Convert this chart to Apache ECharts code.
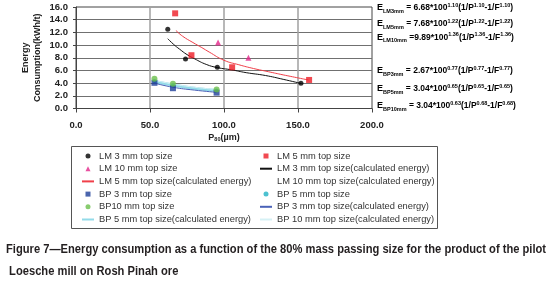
<!DOCTYPE html>
<html>
<head>
<meta charset="utf-8">
<script src="https://cdn.jsdelivr.net/npm/echarts@6/dist/echarts.min.js"></script>
<style>
  html, body { margin: 0; padding: 0; background: #fff; }
  #chart { width: 551px; height: 284px; }
</style>
</head>
<body>
<div id="chart"></div>
<script>
  // measured points [P80 (um), energy (kWh/t)]
  const lm3Points = [[62, 12.5], [74, 7.8], [95.5, 6.5], [152, 4.0]];
  const lm5Points = [[67, 15.0], [78, 8.4], [105.5, 6.5], [157.5, 4.5]];
  const lm10Points = [[96, 10.4], [116.5, 8.0]];
  const bp3Points = [[53, 4.05], [65.5, 3.2], [95, 2.5]];
  const bp5Points = [[53, 4.35], [65.5, 3.65], [95, 2.85]];
  const bp10Points = [[53, 4.7], [65.5, 3.9], [95, 3.0]];

  // calculated energy curves
  const lm3Calc = [[62, 11.0], [66, 10.1], [70, 9.35], [75, 8.5], [80, 7.85], [88, 6.95], [95.5, 6.45],
    [105, 6.1], [115, 5.65], [128, 5.2], [140, 4.6], [152, 3.95]];
  const lm5Calc = [[67.5, 12.3], [72, 11.4], [79, 10.4], [85, 9.6], [90, 8.9], [100, 7.6], [110, 6.9],
    [120, 6.3], [130, 5.8], [140, 5.3], [157, 4.5]];
  const lm10Calc = [];
  const bp3Calc = [[53, 4.0], [65.5, 3.35], [80, 2.9], [95, 2.55]];
  const bp5Calc = [[53, 4.25], [65.5, 3.7], [80, 3.2], [95, 2.85]];
  const bp10Calc = [[53, 4.45], [65.5, 3.85], [80, 3.35], [95, 3.0]];

  const legendLeft = ['LM 3 mm top size', 'LM 10 mm top size', 'LM 5 mm top size(calculated energy)',
    'BP 3 mm top size', 'BP10 mm top size', 'BP 5 mm top size(calculated energy)'];
  const legendRight = ['LM 5 mm top size', 'LM 3 mm top size(calculated energy)', 'LM 10 mm top size(calculated energy)',
    'BP 5 mm top size', 'BP 3 mm top size(calculated energy)', 'BP 10 mm top size(calculated energy)'];

  // equations: [subscript, coefficient, exponent after 100, exponent P, exponent F]
  const equations = [
    ['LM3mm', ' = 6.68*100', '1.10', '1.10', '1.10'],
    ['LM5mm', ' = 7.68*100', '1.22', '1.22', '1.22'],
    ['LM10mm', ' =9.89*100', '1.36', '1.36', '1.36'],
    ['BP3mm', ' = 2.67*100', '0.77', '0.77', '0.77'],
    ['BP5mm', ' = 3.04*100', '0.65', '0.65', '0.65'],
    ['BP10mm', ' = 3.04*100', '0.63', '0.68', '0.68']
  ];
  const equationY = [7, 23, 36.5, 70, 88, 105];

  const captionLines = [
    'Figure 7\u2014Energy consumption as a function of the 80% mass passing size for the product of the pilot',
    ' Loesche mill on Rosh Pinah ore'
  ];

  const font = 'Arial, "Liberation Sans", sans-serif';
  const squareIcon = 'path://M0,0H10V10H0Z';
  const triangleIcon = 'path://M5,0L10,10H0Z';

  function scatter(name, data, symbol, size, color) {
    return {
      name: name, type: 'scatter', data: data, symbol: symbol, symbolSize: size,
      itemStyle: {color: color}, z: 5, animation: false
    };
  }

  function curve(name, data, color, width) {
    return {
      name: name, type: 'line', data: data, smooth: true, symbol: 'none', showSymbol: false,
      lineStyle: {color: color, width: width}, itemStyle: {color: color}, z: 3, animation: false
    };
  }

  const legendIcons = {
    'LM 3 mm top size': 'circle',
    'LM 5 mm top size': squareIcon,
    'LM 10 mm top size': triangleIcon,
    'BP 3 mm top size': squareIcon,
    'BP 5 mm top size': 'circle',
    'BP10 mm top size': 'circle'
  };

  function legendItem(name) {
    if (legendIcons[name]) {
      return {name: name, icon: legendIcons[name]};
    }
    // calculated curves: line only, hide the middle symbol
    return {name: name, itemStyle: {opacity: 0}};
  }

  const richEq = {
    e: {fontSize: 9, fontWeight: 'bold', fontFamily: font, color: '#222', lineHeight: 12, verticalAlign: 'middle'},
    sub: {fontSize: 5.5, fontWeight: 'bold', fontFamily: font, color: '#222', lineHeight: 12, verticalAlign: 'bottom'},
    t: {fontSize: 8.5, fontWeight: 'bold', fontFamily: font, color: '#222', lineHeight: 12, verticalAlign: 'middle'},
    sup: {fontSize: 5.5, fontWeight: 'bold', fontFamily: font, color: '#222', lineHeight: 12, verticalAlign: 'top'}
  };

  const graphics = [{
    type: 'rect',
    shape: {x: 71.5, y: 146.5, width: 366, height: 82},
    style: {fill: 'none', stroke: '#555', lineWidth: 1},
    silent: true
  }];

  equations.forEach((eq, i) => {
    graphics.push({
      type: 'text',
      left: 377,
      top: equationY[i] - 5,
      style: {
        text: '{e|E}{sub|' + eq[0] + '}{t|' + eq[1] + '}{sup|' + eq[2] + '}{t|(1/P}{sup|' + eq[3] +
          '}{t|-1/F}{sup|' + eq[4] + '}{t|)}',
        rich: richEq
      }
    });
  });

  captionLines.forEach((line, i) => {
    graphics.push({
      type: 'text',
      x: 6,
      y: 250 + i * 22,
      scaleX: 0.93,
      style: {
        text: line, fontSize: 12, fontWeight: 'bold', fontFamily: font, fill: '#231f20',
        verticalAlign: 'middle'
      }
    });
  });

  const legendBase = {
    orient: 'vertical',
    top: 150,
    itemWidth: 12,
    itemHeight: 5,
    itemGap: 0.7,
    padding: 0,
    textStyle: {fontSize: 9.3, fontFamily: font, color: '#333', lineHeight: 12},
    inactiveColor: '#ccc'
  };

  const chart = echarts.init(document.getElementById('chart'));
  chart.setOption({
    backgroundColor: '#fff',
    animation: false,
    grid: {
      left: 76, top: 7, width: 296, height: 101.5,
      show: true, borderColor: '#444', borderWidth: 1, backgroundColor: '#fff'
    },
    legend: [
      Object.assign({}, legendBase, {left: 81, data: legendLeft.map(legendItem)}),
      Object.assign({}, legendBase, {left: 259, data: legendRight.map(legendItem)})
    ],
    xAxis: {
      type: 'value', min: 0, max: 200, interval: 50,
      name: '{p|P}{s|80}{p|(\u00b5m)}',
      nameLocation: 'middle', nameGap: 24, nameMoveOverlap: false,
      nameTextStyle: {
        rich: {
          p: {fontSize: 9, fontWeight: 'bold', fontFamily: font, color: '#222'},
          s: {fontSize: 5.5, fontWeight: 'bold', fontFamily: font, color: '#222', verticalAlign: 'bottom', padding: [4, 0, 0, 0]}
        }
      },
      axisLine: {lineStyle: {color: '#444', width: 1}},
      axisTick: {show: true, length: 4, lineStyle: {color: '#444'}},
      axisLabel: {
        margin: 12, fontSize: 9.5, fontWeight: 'bold', fontFamily: font, color: '#222',
        formatter: v => v.toFixed(1)
      },
      splitLine: {show: true, showMinLine: false, showMaxLine: false, lineStyle: {color: '#a0a0a0', width: 1.5}}
    },
    yAxis: {
      type: 'value', min: 0, max: 16, interval: 2,
      name: 'Energy\nConsumption(kWh/t)',
      nameLocation: 'middle', nameRotate: 90, nameGap: 32, nameMoveOverlap: false,
      nameTextStyle: {fontSize: 9, fontWeight: 'bold', fontFamily: font, color: '#222', lineHeight: 12},
      axisLine: {show: true, lineStyle: {color: '#444', width: 1}},
      axisTick: {show: true, length: 3, lineStyle: {color: '#444'}},
      axisLabel: {
        margin: 8, fontSize: 9.5, fontWeight: 'bold', fontFamily: font, color: '#222',
        formatter: v => v.toFixed(1)
      },
      splitLine: {show: true, showMinLine: false, showMaxLine: false, lineStyle: {color: '#707070', width: 1}}
    },
    graphic: graphics,
    series: [
      curve('BP 5 mm top size(calculated energy)', bp5Calc, '#93dbe9', 3),
      curve('BP 10 mm top size(calculated energy)', bp10Calc, '#d6f1f5', 1),
      curve('BP 3 mm top size(calculated energy)', bp3Calc, '#4a62b8', 1),
      curve('LM 3 mm top size(calculated energy)', lm3Calc, '#111', 1),
      curve('LM 5 mm top size(calculated energy)', lm5Calc, '#f0404a', 1),
      curve('LM 10 mm top size(calculated energy)', lm10Calc, '#ffffff', 1),
      scatter('LM 3 mm top size', lm3Points, 'circle', 5, '#000'),
      scatter('LM 5 mm top size', lm5Points, 'rect', 6, '#ee1c25'),
      scatter('LM 10 mm top size', lm10Points, 'triangle', 6, '#e4268a'),
      scatter('BP 5 mm top size', bp5Points, 'circle', 4, '#1fb2c4'),
      scatter('BP 3 mm top size', bp3Points, 'rect', 6, '#1e3f98'),
      scatter('BP10 mm top size', bp10Points, 'circle', 6, '#6abf4b')
    ]
  });
</script>
</body>
</html>
